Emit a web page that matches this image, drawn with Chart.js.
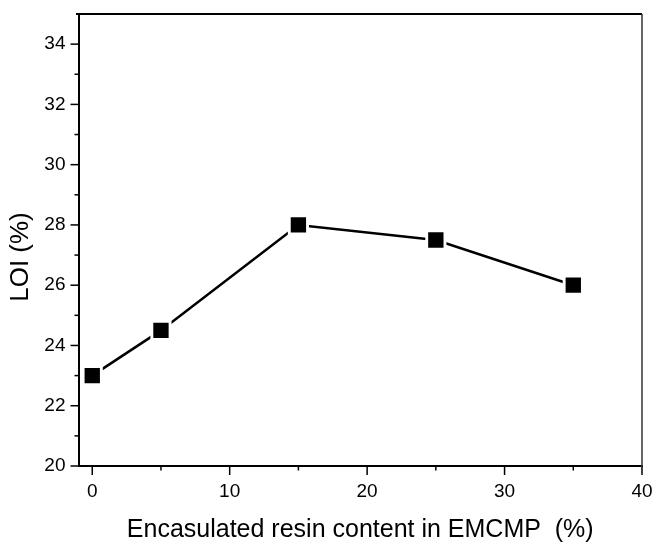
<!DOCTYPE html>
<html>
<head>
<meta charset="utf-8">
<script src="https://cdn.jsdelivr.net/npm/chart.js@4/dist/chart.umd.min.js"></script>
<style>
  html, body { margin: 0; padding: 0; background: #fff; }
  canvas { display: block; }
</style>
</head>
<body>
<canvas id="c" width="652" height="543"></canvas>
<script>
const resinContent = [0, 5, 15, 25, 35];
const loiValues = [23, 24.5, 28, 27.5, 26];
const xTickValues = [0, 5, 10, 15, 20, 25, 30, 35, 40];
const xTickLabels = ['0', '', '10', '', '20', '', '30', '', '40'];
const yTickValues = [20, 21, 22, 23, 24, 25, 26, 27, 28, 29, 30, 31, 32, 33, 34];
const yTickLabels = ['20', '', '22', '', '24', '', '26', '', '28', '', '30', '', '32', '', '34'];
const xTitle = 'Encasulated resin content in EMCMP  (%)';
const yTitle = 'LOI (%)';

const FONT = 'Arial, "Liberation Sans", sans-serif';

const framePlugin = {
  id: 'frame',
  afterDraw(chart) {
    const ctx = chart.ctx;
    const xs = chart.scales.x, ys = chart.scales.y;
    const a = chart.chartArea;
    ctx.save();
    ctx.strokeStyle = '#000';
    ctx.lineWidth = 1.5;
    xTickValues.forEach((v, i) => {
      const px = xs.getPixelForValue(v);
      const len = xTickLabels[i] ? 9 : 4.5;
      ctx.beginPath();
      ctx.moveTo(px, a.bottom);
      ctx.lineTo(px, a.bottom + len);
      ctx.stroke();
    });
    yTickValues.forEach((v, i) => {
      const py = ys.getPixelForValue(v);
      const len = yTickLabels[i] ? 8 : 4;
      ctx.beginPath();
      ctx.moveTo(a.left, py);
      ctx.lineTo(a.left - len, py);
      ctx.stroke();
    });
    ctx.lineWidth = 2;
    ctx.beginPath();
    ctx.moveTo(a.left - 2.5, a.top);
    ctx.lineTo(a.right, a.top);
    ctx.stroke();
    ctx.strokeStyle = '#333';
    ctx.lineWidth = 1.5;
    ctx.beginPath();
    ctx.moveTo(a.right, a.top);
    ctx.lineTo(a.right, a.bottom + 1);
    ctx.stroke();
    ctx.fillStyle = '#000';
    ctx.font = '26px ' + FONT;
    ctx.textAlign = 'center';
    ctx.textBaseline = 'middle';
    ctx.translate(21, 257);
    ctx.rotate(-Math.PI / 2);
    ctx.fillText(yTitle, 0, 0);
    ctx.restore();
  }
};

function noPad(s) {
  s.paddingTop = 0; s.paddingBottom = 0; s.paddingLeft = 0; s.paddingRight = 0;
}

new Chart(document.getElementById('c'), {
  type: 'scatter',
  data: {
    datasets: [{
      data: resinContent.map((x, i) => ({ x: x, y: loiValues[i] })),
      showLine: true,
      borderColor: '#000',
      borderWidth: 2.5,
      pointStyle: 'rect',
      pointRadius: 12.9,
      pointHoverRadius: 12.9,
      pointBackgroundColor: '#000',
      pointBorderColor: '#fff',
      pointBorderWidth: 2.9
    }]
  },
  options: {
    responsive: false,
    animation: false,
    devicePixelRatio: 1,
    layout: { autoPadding: false, padding: { top: 14, right: 10, left: 0, bottom: 0 } },
    plugins: { legend: { display: false }, tooltip: { enabled: false } },
    scales: {
      x: {
        type: 'linear',
        min: -1,
        max: 40,
        afterBuildTicks: s => { s.ticks = xTickValues.map(v => ({ value: v })); },
        afterFit: s => { s.height = 77; noPad(s); },
        grid: { display: false, drawTicks: false },
        border: { display: true, color: '#000', width: 2 },
        ticks: {
          autoSkip: false,
          maxRotation: 0,
          color: '#000',
          padding: 14,
          font: { family: FONT, size: 19 },
          callback: (v, i) => xTickLabels[i]
        },
        title: {
          display: true,
          text: xTitle,
          color: '#000',
          font: { family: FONT, size: 25, lineHeight: 1 },
          padding: { top: 0, bottom: 0 }
        }
      },
      y: {
        min: 20,
        max: 35,
        afterBuildTicks: s => { s.ticks = yTickValues.map(v => ({ value: v })); },
        afterFit: s => { s.width = 78.5; noPad(s); },
        grid: { display: false, drawTicks: false },
        border: { display: true, color: '#000', width: 2 },
        ticks: {
          autoSkip: false,
          color: '#000',
          padding: 13,
          font: { family: FONT, size: 19 },
          callback: (v, i) => yTickLabels[i]
        }
      }
    }
  },
  plugins: [framePlugin]
});
</script>
</body>
</html>
